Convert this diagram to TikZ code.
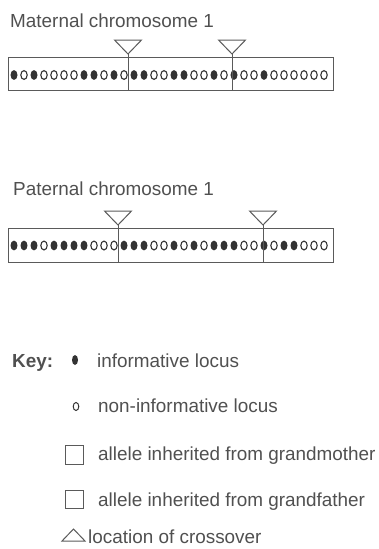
\documentclass[tikz,border=0pt]{standalone}
\usepackage{fontspec}
\setmainfont{Liberation Sans}
\begin{document}
\begin{tikzpicture}[x=1pt,y=-1pt,
  txt/.style={anchor=base west,inner sep=0pt,text=textgray,font=\fontsize{18.9}{22}\selectfont},
  chrom/.style={draw=linegray,line width=1pt},
  xover/.style={draw=linegray,line width=1pt,line join=miter},
  keybox/.style={draw=linegray,line width=1pt}]
\definecolor{textgray}{HTML}{505050}
\definecolor{linegray}{HTML}{5A5A5A}
\definecolor{dotcol}{HTML}{333333}
\useasboundingbox (0,0) rectangle (378,549);
% labels
\node[txt] (mat) at (10,27) {Maternal chromosome 1};
\node[txt] (pat) at (13,195) {Paternal chromosome 1};
% maternal chromosome
\draw[chrom] (8,57) rectangle (333,90);
\foreach \s [count=\i from 0] in {1,0,1,0,0,0,0,1,1,0,1,0, 1,1,0,0,1,1,0,0,1,0, 1,0,0,1,0,0,0,0,0,0}{
  \pgfmathsetmacro{\xx}{14+10*\i}
  \ifnum\s=1 \fill[dotcol] (\xx,75) ellipse [x radius=3.5,y radius=4.9];
  \else \draw[dotcol,line width=1.1pt] (\xx,75) ellipse [x radius=3.2,y radius=4.4]; \fi}
\draw[xover] (128,90) -- (128,54);
\draw[xover] (128,54) -- (114.5,40) -- (141.5,40) -- cycle;
\draw[xover] (232,90) -- (232,54);
\draw[xover] (232,54) -- (218.5,40) -- (245.5,40) -- cycle;
% paternal chromosome
\draw[chrom] (8,228) rectangle (333,262);
\foreach \s [count=\i from 0] in {1,1,1,0,1,1,1,1,0,0,0, 1,1,1,0,0,1,0,1,0,1,1,1,0,0, 1,0,1,1,0,0,0}{
  \pgfmathsetmacro{\xx}{14+10*\i}
  \ifnum\s=1 \fill[dotcol] (\xx,245.5) ellipse [x radius=3.5,y radius=4.9];
  \else \draw[dotcol,line width=1.1pt] (\xx,245.5) ellipse [x radius=3.2,y radius=4.4]; \fi}
\draw[xover] (118,262) -- (118,225);
\draw[xover] (118,225) -- (104.5,211) -- (131.5,211) -- cycle;
\draw[xover] (263,262) -- (263,225);
\draw[xover] (263,225) -- (249.5,211) -- (276.5,211) -- cycle;
% key
\node[txt,font=\fontsize{18.9}{22}\selectfont\bfseries] (key) at (12,367) {Key:};
\fill[dotcol] (75,360) ellipse [x radius=3,y radius=5];
\node[txt] (k1) at (97,367) {informative locus};
\draw[dotcol,line width=1pt] (76,406.5) ellipse [x radius=2.8,y radius=4];
\node[txt] (k2) at (98,412) {non-informative locus};
\draw[keybox] (65,445) rectangle (83,464);
\node[txt] (k3) at (98,460) {allele inherited from grandmother};
\draw[keybox] (65,490) rectangle (83,508);
\node[txt] (k4) at (98,506) {allele inherited from grandfather};
\draw[keybox,line join=miter] (62,541) -- (85,541) -- (73.5,529) -- cycle;
\node[txt] (k5) at (88,543) {location of crossover};
\end{tikzpicture}
\end{document}
